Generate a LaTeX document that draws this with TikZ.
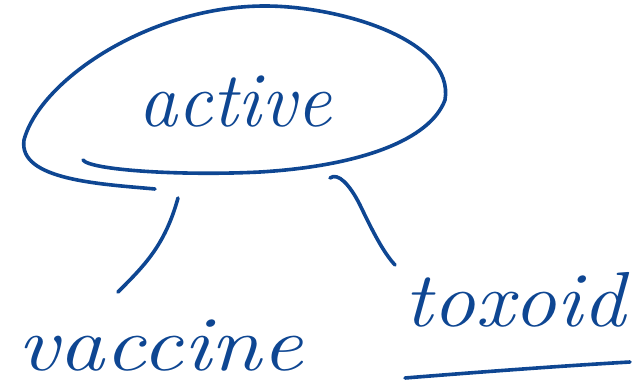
\documentclass[tikz,border=0pt]{standalone}
\definecolor{ink}{RGB}{14,70,146}
\begin{document}
\begin{tikzpicture}[x=1pt,y=-1pt,
  stroke/.style={draw=ink,line width=3.6pt,line cap=round,line join=round},
  word/.style={text=ink,font=\fontsize{78}{78}\selectfont\itshape,inner sep=0pt}]
\useasboundingbox (0,0) rectangle (633,390);
% loop around "active"
\draw[stroke] (83,160) .. controls (90,170) and (180,176) .. (260,172)
  .. controls (360,166) and (430,140) .. (445,100)
  .. controls (455,40) and (340,6) .. (265,6)
  .. controls (150,6) and (40,80) .. (24,140)
  .. controls (18,180) and (100,184) .. (155,189);
\node[word] (active) at (235,102) {active};
\node[word,xscale=1.18] (vaccine) at (160,346) {vaccine};
\node[word,xscale=1.1] (toxoid) at (515,300) {toxoid};
\coordinate (a1) at (178,198);
\coordinate (v1) at (118,292);
\coordinate (a2) at (330,178);
\coordinate (t1) at (395,265);
\draw[stroke] (a1) .. controls (165,245) and (145,265) .. (v1);
\draw[stroke] (a2) .. controls (338,172) and (350,185) .. (360,205)
  .. controls (372,230) and (383,252) .. (t1);
\coordinate (u1) at (405,378);
\coordinate (u2) at (630,362);
\draw[stroke] (u1) .. controls (480,372) and (560,366) .. (u2);
\end{tikzpicture}
\end{document}
